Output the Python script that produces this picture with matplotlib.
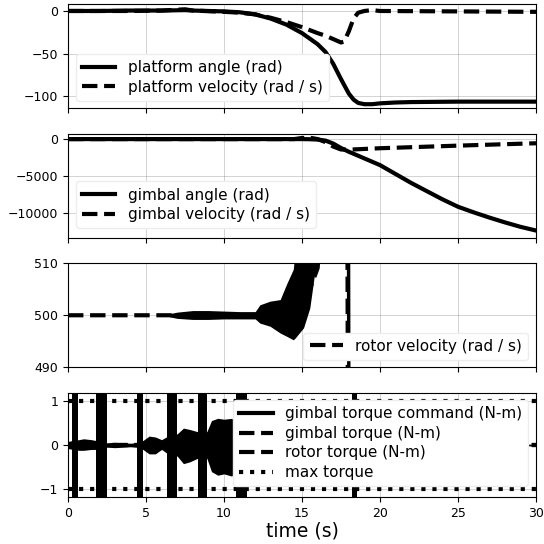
import matplotlib
matplotlib.use("Agg")
import matplotlib.pyplot as plt
from matplotlib.lines import Line2D

# ---- platform (rad, rad/s) ----
t_plat = [0, 2, 4, 6, 7.5, 8, 10, 11, 12, 13, 14, 15, 16, 16.5, 17, 17.5, 18,
          18.3, 18.6, 19, 19.5, 20, 21, 22, 25, 30]
platform_angle = [0, 0, 0.5, 0.5, 1, 0.5, -0.5, -1.5, -4, -9, -16, -26, -39, -48,
                  -62, -80, -97, -104, -108, -109.5, -109.5, -108.5, -107.5, -107,
                  -106.5, -106.5]
t_plat_vel = [0, 2, 4, 6, 7.5, 8, 10, 11, 12, 13, 14, 15, 16, 16.5, 17, 17.5,
              17.7, 18.0, 18.3, 18.6, 19, 19.5, 20, 25, 30]
platform_velocity = [0, 0, 0, 0.5, 2, 0.5, -1, -2, -4, -8, -13, -19, -26, -29, -33,
                     -37, -36, -24, -9, -2, 0, 1, 0, -0.5, -1]

# ---- gimbal ----
t_gimbal = [0, 14, 15, 15.5, 16, 16.5, 17, 17.5, 18, 19, 20, 21, 22, 23, 24, 25,
            26, 27, 28, 29, 30]
gimbal_angle = [0, 0, 0, -20, -60, -200, -600, -1200, -1700, -2600, -3500, -4700,
                -5900, -7000, -8100, -9100, -9850, -10550, -11200, -11800, -12300]
t_gimbal_vel = [0, 14.5, 15, 15.6, 16, 16.5, 17, 17.5, 18, 20, 25, 30]
gimbal_velocity = [0, 0, 150, 150, 0, -400, -1000, -1400, -1420, -1230, -880, -560]

# ---- rotor velocity: mean line and oscillation envelope ----
t_rotor = [0, 12, 13, 14, 14.5, 15, 15.5, 16, 16.3, 17.9, 17.95, 30]
rotor_velocity = [500, 500, 500, 500.5, 502, 503, 505, 509, 520, 530, 470, 440]
t_rotor_env = [6.5, 7, 8, 9, 10, 11, 12, 12.3, 12.95, 13.6, 14.0, 14.44, 14.55,
               15.1, 15.5, 15.8, 15.95, 16.3, 17.84, 17.86, 18.06, 18.08, 30]
rotor_upper = [500.3, 500.6, 500.9, 500.9, 500.8, 500.7, 500.7, 502, 502.7, 503,
               505.9, 508.8, 512, 515, 515, 515, 515, 515, 515, 515, 515, 485, 485]
rotor_lower = [499.7, 499.4, 499.2, 499.2, 499.3, 499.3, 499.3, 498.5, 497.9, 496.6,
               496, 495.3, 495.6, 497.6, 501.4, 507.8, 510.5, 515, 515, 485, 485,
               485, 485]

# ---- torques (N-m) ----
t_cmd = [0, 0.3, 0.7, 1.0, 1.5, 1.8, 2.5, 3.0, 3.5, 4.0, 4.4, 4.8, 5.2, 5.6, 6.0,
         6.4, 7.0, 7.4, 7.8, 8.3, 8.9, 9.2, 9.6, 10.0, 10.5, 11, 12, 15, 18, 21,
         24, 27, 30]
cmd_upper = [0.08, 0.1, 0.12, 0.14, 0.12, 0.1, 0.05, 0.06, 0.05, 0.04, 0.05, 0.1,
             0.2, 0.18, 0.12, 0.2, 0.25, 0.38, 0.35, 0.3, 0.3, 0.55, 0.6, 0.58,
             0.6, 0.4, 0.2, 0.1, 0.05, 0.03, 0.02, 0.02, 0.02]
cmd_lower = [-0.08, -0.1, -0.12, -0.12, -0.1, -0.1, -0.05, -0.06, -0.05, -0.04,
             -0.05, -0.1, -0.2, -0.2, -0.1, -0.2, -0.25, -0.42, -0.38, -0.3, -0.3,
             -0.6, -0.68, -0.65, -0.7, -0.4, -0.2, -0.1, -0.05, -0.03, -0.02,
             -0.02, -0.02]
# intervals where the command chatters far past the limits
sat_start = [0.24, 1.8, 4.4, 6.37, 8.31, 10.77, 18.2]
sat_end = [0.66, 2.48, 4.83, 6.97, 8.89, 11.45, 18.5]
cmd_peak = 3.0
t_torque = [0, 30]
gimbal_torque = [0, 0]
rotor_torque = [0, 0]
max_torque = 1.0

leg_kw = dict(fontsize=11, labelspacing=0.3, handlelength=2.2, framealpha=1,
              edgecolor="0.93")

fig, axes = plt.subplots(4, 1, sharex=True, figsize=(5.44, 5.44), dpi=100)
fig.subplots_adjust(left=68 / 544, right=536 / 544, top=1 - 4 / 544,
                    bottom=1 - 497 / 544, hspace=0.24)

for ax in axes:
    ax.grid(True, color="black", alpha=0.2, linewidth=0.6)
    ax.tick_params(labelsize=9)
    ax.set_xlim(0, 30)
    ax.set_xticks(range(0, 31, 5))

ax = axes[0]
ax.plot(t_plat, platform_angle, "k-", lw=3, label="platform angle (rad)")
ax.plot(t_plat_vel, platform_velocity, "k--", lw=3, label="platform velocity (rad / s)")
ax.set_ylim(-114.5, 8.2)
ax.set_yticks([-100, -50, 0])
ax.legend(loc="lower left", **leg_kw)

ax = axes[1]
ax.plot(t_gimbal, gimbal_angle, "k-", lw=3, label="gimbal angle (rad)")
ax.plot(t_gimbal_vel, gimbal_velocity, "k--", lw=3, label="gimbal velocity (rad / s)")
ax.set_ylim(-13300, 750)
ax.set_yticks([-10000, -5000, 0])
ax.legend(loc="lower left", bbox_to_anchor=(0, 0.02), **leg_kw)

ax = axes[2]
ax.plot(t_rotor, rotor_velocity, "k--", lw=3, label="rotor velocity (rad / s)")
ax.fill_between(t_rotor_env, rotor_lower, rotor_upper, color="black", lw=0)
ax.set_ylim(490, 510)
ax.set_yticks([490, 500, 510])
ax.legend(loc="lower right", **leg_kw)

ax = axes[3]
ax.fill_between(t_cmd, cmd_lower, cmd_upper, color="black", lw=0)
for s, e in zip(sat_start, sat_end):
    ax.fill_between([s, e], [-cmd_peak, -cmd_peak], [cmd_peak, cmd_peak],
                    color="black", lw=0)
ax.plot(t_torque, gimbal_torque, "k--", lw=3)
ax.plot(t_torque, rotor_torque, "k--", lw=3)
ax.plot(t_torque, [max_torque, max_torque], "k:", lw=3)
ax.plot(t_torque, [-max_torque, -max_torque], "k:", lw=3)
handles = [
    Line2D([], [], color="black", ls="-", lw=3),
    Line2D([], [], color="black", ls="--", lw=3),
    Line2D([], [], color="black", ls="--", lw=3),
    Line2D([], [], color="black", ls=":", lw=3),
]
labels = ["gimbal torque command (N-m)", "gimbal torque (N-m)",
          "rotor torque (N-m)", "max torque"]
ax.legend(handles, labels, loc="upper right", **leg_kw)
ax.set_ylim(-1.17, 1.18)
ax.set_yticks([-1, 0, 1])
ax.set_xlabel("time (s)", fontsize=13.5, labelpad=1)

fig.savefig("out.png", dpi=100)
